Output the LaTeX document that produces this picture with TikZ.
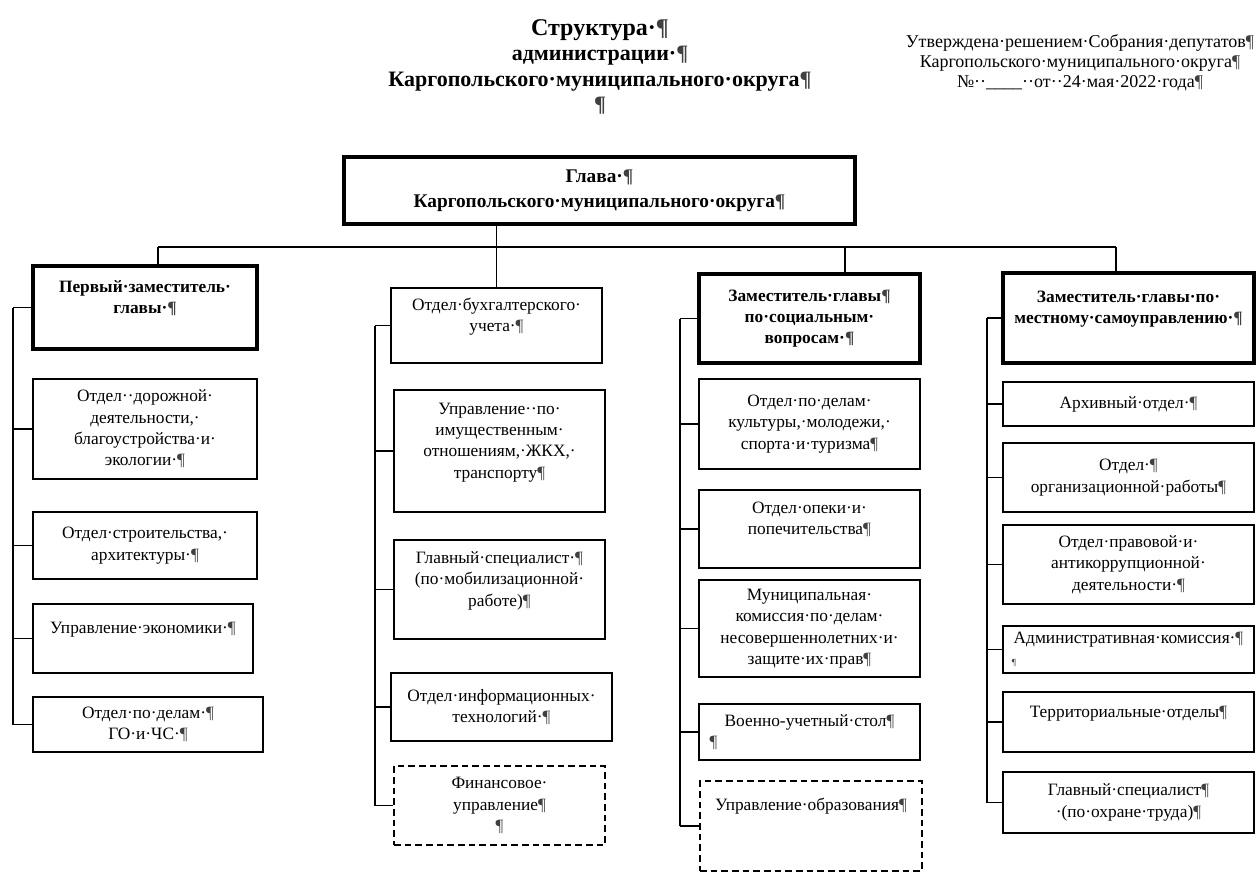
\documentclass[tikz,border=0pt]{standalone}
\usepackage{fontspec}
\setmainfont{Liberation Serif}

\newcommand{\pil}{{\color{black!75}¶}}
\newcommand{\boxfont}{\fontsize{13pt}{16pt}\selectfont}

\tikzset{
	dept/.style={draw,line width=1.2pt,align=center,inner sep=0pt,font=\boxfont},
	chief/.style={dept,line width=2.6pt,font=\boxfont\bfseries},
	newdept/.style={dept,line width=1.5pt,dash pattern=on 5pt off 3pt}
}

\begin{document}
\begin{tikzpicture}[x=0.75pt,y=-0.75pt,line width=0.9pt]

		\useasboundingbox (0,0) rectangle (1256,874);

		\node[align=center,font=\bfseries\fontsize{16.5pt}{19pt}\selectfont] (title) at (600,67)
			{{\fontsize{18pt}{19pt}\selectfont Структура·\pil}\\администрации·\pil\\Каргопольского·муниципального·округа\pil\\\pil};
		\node[align=center,font=\fontsize{13.5pt}{15pt}\selectfont] (approved) at (1080,63)
			{Утверждена·решением·Собрания·депутатов\pil\\Каргопольского·муниципального·округа\pil\\№··\_\_\_\_··от··24·мая·2022·года\pil};

		\node[dept,line width=3pt,font=\bfseries\fontsize{14.5pt}{18.5pt}\selectfont,minimum width=511*.75pt,minimum height=67*.75pt] (G) at (599.5,190.5)
			{Глава·\pil\\Каргопольского·муниципального·округа\pil};

		% first deputy
		\node[chief,minimum width=224*.75pt,minimum height=83*.75pt] (P1) at (145,307.5) {Первый·заместитель·\\главы·\pil\\\mbox{}};
		\node[dept,minimum width=224*.75pt,minimum height=100*.75pt] (D1) at (145,429) {Отдел··дорожной·\\деятельности,·\\благоустройства·и·\\экологии·\pil};
		\node[dept,minimum width=224*.75pt,minimum height=67*.75pt] (D2) at (145,545.5) {Отдел·строительства,·\\архитектуры·\pil};
		\node[dept,minimum width=220*.75pt,minimum height=69*.75pt] (D3) at (143,638.5) {Управление·экономики·\pil\\\mbox{}};
		\node[dept,minimum width=230*.75pt,minimum height=55*.75pt] (D4) at (148,724.5) {Отдел·по·делам·\pil\\ГО·и·ЧС·\pil};

		% under the head
		\node[dept,minimum width=211*.75pt,minimum height=75*.75pt] (B1) at (496.5,325.5) {Отдел·бухгалтерского·\\учета·\pil\\\mbox{}};
		\node[dept,minimum width=211*.75pt,minimum height=122*.75pt] (B2) at (499.5,451) {Управление··по·\\имущественным·\\отношениям,·ЖКХ,·\\транспорту\pil\\\mbox{}};
		\node[dept,minimum width=211*.75pt,minimum height=99*.75pt] (B3) at (499.5,589.5) {Главный·специалист·\pil\\(по·мобилизационной·\\работе)\pil\\\mbox{}};
		\node[dept,minimum width=221*.75pt,minimum height=68*.75pt] (B4) at (501.5,707) {Отдел·информационных·\\технологий·\pil};
		\node[newdept,minimum width=211*.75pt,minimum height=79*.75pt] (B5) at (499.5,805.5) {Финансовое·\\управление\pil\\\pil};

		% social deputy
		\node[chief,minimum width=221*.75pt,minimum height=89*.75pt] (S) at (809.5,318.5) {Заместитель·главы\pil\\по·социальным·\\вопросам·\pil};
		\node[dept,minimum width=221*.75pt,minimum height=90*.75pt] (C1) at (809.5,424) {Отдел·по·делам·\\культуры,·молодежи,·\\спорта·и·туризма\pil};
		\node[dept,minimum width=221*.75pt,minimum height=78*.75pt] (C2) at (809.5,529) {Отдел·опеки·и·\\попечительства\pil\\\mbox{}};
		\node[dept,minimum width=221*.75pt,minimum height=97*.75pt] (C3) at (809.5,628.5) {Муниципальная·\\комиссия·по·делам·\\несовершеннолетних·и·\\защите·их·прав\pil};
		\node[dept,minimum width=221*.75pt,minimum height=56*.75pt] (C4) at (809.5,732) {Военно-учетный·стол\pil\\\makebox[150pt][l]{\pil}};
		\node[newdept,minimum width=222*.75pt,minimum height=90*.75pt] (C5) at (811,826) {Управление·образования\pil\\\mbox{}\\\mbox{}};

		% local government deputy
		\node[chief,minimum width=251*.75pt,minimum height=90*.75pt] (Z) at (1128.5,318) {Заместитель·главы·по·\\местному·самоуправлению·\pil\\\mbox{}};
		\node[dept,minimum width=251*.75pt,minimum height=44*.75pt] (E1) at (1128.5,404) {Архивный·отдел·\pil};
		\node[dept,minimum width=251*.75pt,minimum height=69*.75pt] (E2) at (1128.5,477.5) {Отдел·\pil\\организационной·работы\pil};
		\node[dept,minimum width=251*.75pt,minimum height=79*.75pt] (E3) at (1128.5,564.5) {Отдел·правовой·и·\\антикоррупционной·\\деятельности·\pil};
		\node[dept,minimum width=251*.75pt,minimum height=47*.75pt] (E4) at (1128.5,649.5) {Административная·комиссия·\pil\\\makebox[175pt][l]{\scriptsize\pil}};
		\node[dept,minimum width=251*.75pt,minimum height=60*.75pt] (E5) at (1128.5,722) {Территориальные·отделы\pil\\\mbox{}};
		\node[dept,minimum width=251*.75pt,minimum height=61*.75pt] (E6) at (1128.5,802.5) {Главный·специалист\pil\\·(по·охране·труда)\pil};

		\coordinate (t1) at (158,247);
		\coordinate (t3) at (845,247);
		\coordinate (t4) at (1116,247);
		\coordinate (s1) at (13,0);
		\coordinate (s2) at (375,0);
		\coordinate (s3) at (680,0);
		\coordinate (s4) at (987,0);

		\draw (G.south -| B1.north) -- (B1.north);
		\draw (t1) -- (t4);
		\draw (t1) -- (t1 |- P1.north);
		\draw (t3) -- (t3 |- S.north);
		\draw (t4) -- (t4 |- Z.north);

		\foreach \b in {P1,D1,D2,D3,D4} \draw (\b.west) -- (\b.west -| s1);
		\foreach \b in {B1,B2,B3,B4,B5} \draw (\b.west) -- (\b.west -| s2);
		\foreach \b in {S,C1,C2,C3,C4,C5} \draw (\b.west) -- (\b.west -| s3);
		\foreach \b in {Z,E1,E2,E3,E4,E5,E6} \draw (\b.west) -- (\b.west -| s4);
		\draw (P1.west -| s1) -- (D4.west -| s1);
		\draw (B1.west -| s2) -- (B5.west -| s2);
		\draw (S.west -| s3) -- (C5.west -| s3);
		\draw (Z.west -| s4) -- (E6.west -| s4);

	\end{tikzpicture}
\end{document}
